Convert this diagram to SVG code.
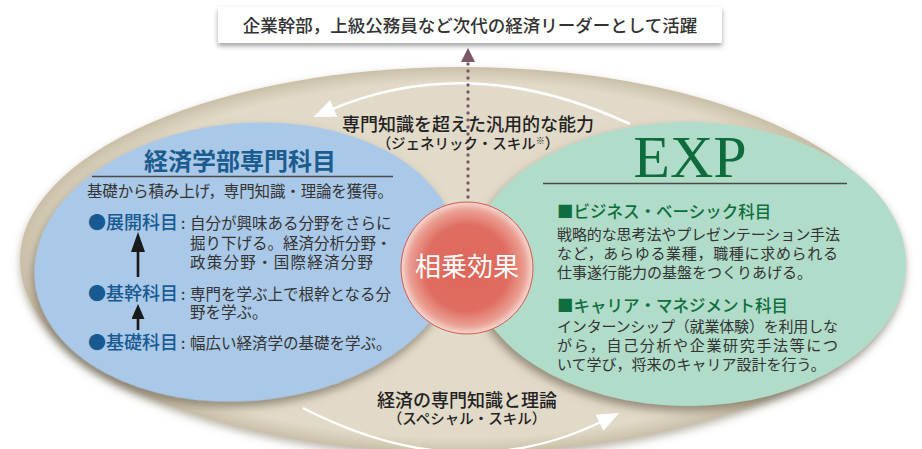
<svg xmlns="http://www.w3.org/2000/svg" width="922" height="449" viewBox="0 0 922 449">
<style>
.jp{font-family:"Noto Sans CJK JP","Noto Sans",sans-serif}
.body{font-size:15.5px;fill:#333;font-weight:400}
.rbody{font-size:15px;fill:#333;font-weight:400}
.blab{font-size:18px;fill:#175a92;font-weight:500}
.lab{font-size:18px;fill:#222;font-weight:500}
.sub{font-size:14.5px;fill:#222;font-weight:500}
.gt{font-size:16.5px;fill:#0f6e3e;font-weight:500}
.arc{fill:none;stroke:#fff;stroke-width:2.5}
</style>
<defs>
<radialGradient id="bgG" cx="0.5" cy="0.5" r="0.5">
<stop offset="0" stop-color="#e4dccc"/>
<stop offset="0.92" stop-color="#e2dac8"/>
<stop offset="0.975" stop-color="#d2c9b3"/>
<stop offset="1" stop-color="#c9bfa7"/>
</radialGradient>
<radialGradient id="redG" cx="0.5" cy="0.5" r="0.5">
<stop offset="0" stop-color="#de665a"/>
<stop offset="0.65" stop-color="#e06d61"/>
<stop offset="0.88" stop-color="#eba094"/>
<stop offset="1" stop-color="#f6d9d1"/>
</radialGradient>
<filter id="bgSh" x="-5%" y="-5%" width="110%" height="115%">
<feDropShadow dx="0" dy="4" stdDeviation="4" flood-color="#8a826c" flood-opacity="0.6"/>
</filter>
<filter id="elSh" x="-10%" y="-10%" width="120%" height="125%">
<feDropShadow dx="-2" dy="5" stdDeviation="5" flood-color="#5a5240" flood-opacity="0.6"/>
</filter>
<filter id="boxSh" x="-5%" y="-30%" width="110%" height="180%">
<feDropShadow dx="0" dy="3" stdDeviation="2.5" flood-color="#555" flood-opacity="0.55"/>
</filter>
<marker id="wArr" markerUnits="userSpaceOnUse" markerWidth="24" markerHeight="20" refX="4" refY="9" orient="auto">
<path d="M0,0 L22,9 L0,18 z" fill="#fff"/>
</marker>
<marker id="mArr" markerUnits="userSpaceOnUse" markerWidth="16" markerHeight="16" refX="2" refY="7" orient="auto">
<path d="M0,0 L14,7 L0,14 z" fill="#7a5868"/>
</marker>
<marker id="kArr" markerUnits="userSpaceOnUse" markerWidth="22" markerHeight="16" refX="2" refY="7" orient="auto">
<path d="M0,0 L20,7 L0,14 z" fill="#1a1a1a"/>
</marker>
<marker id="kArr2" markerUnits="userSpaceOnUse" markerWidth="18" markerHeight="16" refX="2" refY="6.5" orient="auto">
<path d="M0,0 L15,6.5 L0,13 z" fill="#1a1a1a"/>
</marker>
</defs>

<rect width="922" height="449" fill="#fff"/>

<g id="background">
<ellipse cx="461" cy="260" rx="441" ry="193" fill="url(#bgG)" filter="url(#bgSh)"/>
</g>

<g id="econ">
<ellipse cx="246" cy="262" rx="212" ry="139" fill="#aac8e7" filter="url(#elSh)" transform="rotate(-5 246 262)"/>
<text class="jp" x="240" y="170" text-anchor="middle" font-size="24" font-weight="700" fill="#1b5c8f">経済学部専門科目</text>
<line x1="92" y1="176.5" x2="393" y2="176.5" stroke="#4a4a4a" stroke-width="1.3"/>
<text class="jp body" x="87" y="197" font-size="15.3" textLength="306" lengthAdjust="spacing">基礎から積み上げ，専門知識・理論を獲得。</text>
<text class="jp" x="88" y="229"><tspan class="blab">●展開科目</tspan><tspan class="body" x="181">:</tspan><tspan class="body" x="190">自分が興味ある分野をさらに</tspan></text>
<text class="jp body" x="190" y="249">掘り下げる。経済分析分野・</text>
<text class="jp body" x="190" y="268" textLength="183" lengthAdjust="spacing">政策分野・国際経済分野</text>
<text class="jp" x="88" y="300"><tspan class="blab">●基幹科目</tspan><tspan class="body" x="181">:</tspan><tspan class="body" x="190">専門を学ぶ上で根幹となる分</tspan></text>
<text class="jp body" x="190" y="318">野を学ぶ。</text>
<text class="jp" x="88" y="349"><tspan class="blab">●基礎科目</tspan><tspan class="body" x="181">:</tspan><tspan class="body" x="190">幅広い経済学の基礎を学ぶ。</tspan></text>
</g>

<g id="exp">
<ellipse cx="688" cy="264" rx="218" ry="142" fill="#b0dcc9" filter="url(#elSh)"/>
<text x="690" y="177" text-anchor="middle" font-family="Liberation Serif,serif" font-size="60" fill="#0d6b3c">EXP</text>
<line x1="543" y1="183.5" x2="847" y2="183.5" stroke="#4a4a4a" stroke-width="1.3"/>
<text class="jp gt" x="557" y="218">■ビジネス・ベーシック科目</text>
<text class="jp rbody" x="557" y="240" textLength="283" lengthAdjust="spacing">戦略的な思考法やプレゼンテーション手法</text>
<text class="jp rbody" x="557" y="259" textLength="281" lengthAdjust="spacing">など，あらゆる業種，職種に求められる</text>
<text class="jp rbody" x="557" y="278">仕事遂行能力の基盤をつくりあげる。</text>
<text class="jp gt" x="557" y="312">■キャリア・マネジメント科目</text>
<text class="jp rbody" x="557" y="332" textLength="281" lengthAdjust="spacing">インターンシップ（就業体験）を利用しな</text>
<text class="jp rbody" x="557" y="351" textLength="281" lengthAdjust="spacing">がら，自己分析や企業研究手法等につ</text>
<text class="jp rbody" x="557" y="370">いて学び，将来のキャリア設計を行う。</text>
</g>

<g id="connectors">
<path class="arc" d="M630,124 Q470,50 330,110" marker-end="url(#wArr)"/>
<path class="arc" d="M303,408 Q462,490 603,421" marker-end="url(#wArr)"/>
<line x1="468" y1="204" x2="468" y2="62" stroke="#7a5a6a" stroke-width="3.4" stroke-linecap="round" stroke-dasharray="0 7"/>
<path d="M468,62 L468,60" stroke="#7a5a6a" stroke-width="0.1" fill="none" marker-end="url(#mArr)"/>
<line x1="138" y1="277" x2="138" y2="250" stroke="#1a1a1a" stroke-width="2.6" marker-end="url(#kArr)"/>
<line x1="138" y1="330" x2="138" y2="317" stroke="#1a1a1a" stroke-width="2.6" marker-end="url(#kArr2)"/>
</g>

<g id="labels">
<text class="jp" text-anchor="middle"><tspan class="lab" x="468" y="131">専門知識を超えた汎用的な能力</tspan><tspan class="sub" x="468" y="149">（ジェネリック・スキル<tspan font-size="9" dy="-5">※</tspan><tspan dy="5">）</tspan></tspan></text>
<text class="jp" text-anchor="middle"><tspan class="lab" x="467" y="407">経済の専門知識と理論</tspan><tspan class="sub" x="467" y="424">（スペシャル・スキル）</tspan></text>
</g>

<g id="synergy">
<circle cx="467" cy="268" r="66" fill="url(#redG)" stroke="#d4584e" stroke-width="1"/>
<text class="jp" x="467" y="276" text-anchor="middle" font-size="26" fill="#fff" font-weight="400">相乗効果</text>
</g>

<g id="goal">
<rect x="218" y="7" width="504" height="36" fill="#fff" filter="url(#boxSh)"/>
<text class="jp" x="470" y="32" text-anchor="middle" font-size="17.5" fill="#333" font-weight="500">企業幹部，上級公務員など次代の経済リーダーとして活躍</text>
</g>
</svg>
